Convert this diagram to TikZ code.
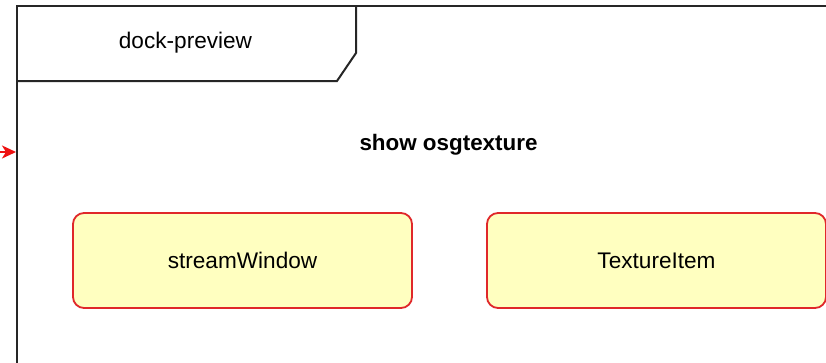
\documentclass[tikz,border=0pt]{standalone}
\usepackage{fontspec}
\setmainfont{Liberation Sans}
\usetikzlibrary{arrows.meta}
\definecolor{boxfill}{HTML}{FFFFC0}
\definecolor{boxline}{HTML}{E0282A}
\definecolor{arrred}{HTML}{EE1111}
\tikzset{
  framestyle/.style={draw=black!85, line width=2pt},
  itembox/.style={draw=boxline, fill=boxfill, line width=1.8pt, rounded corners=11pt,
    minimum width=339pt, minimum height=95pt, inner sep=0pt, font=\fontsize{22.6}{27}\selectfont},
  lbl/.style={inner sep=0pt, font=\fontsize{22.6}{27}\selectfont},
  redarrow/.style={draw=arrred, line width=1.8pt, -{Stealth[length=14pt,width=13pt,inset=4pt]}}
}
\begin{document}
\begin{tikzpicture}[x=1pt,y=-1pt]
\useasboundingbox (0,0) rectangle (826,362);
\clip (0,0) rectangle (826,362);
\fill[white] (0,0) rectangle (826,362);
% frame
\draw[framestyle] (840,6) -- (16.5,6) -- (16.5,380);
% tab
\draw[framestyle] (16.5,81) -- (337,81) -- (356,53) -- (356,6);
\node[lbl] (tab) at (185.5,43) {dock-preview};
\node[lbl, font=\bfseries\fontsize{22.4}{27}\selectfont] (title) at (448.5,144.5) {show osgtexture};
\node[itembox] (sw) at (242.5,260.5) {streamWindow};
\node[itembox] (ti) at (656.5,260.5) {TextureItem};
\coordinate (src) at (-2,152);
\coordinate (fl) at (16,152);
\draw[redarrow] (src) -- (fl);
\end{tikzpicture}
\end{document}
